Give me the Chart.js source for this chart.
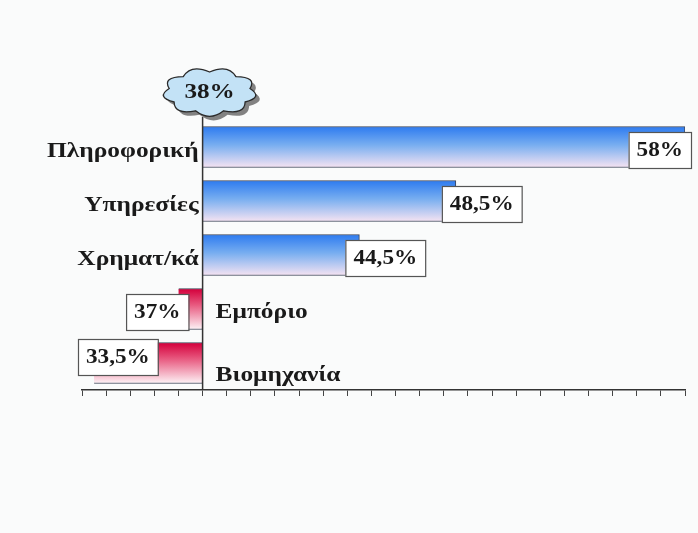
<!DOCTYPE html>
<html>
<head>
<meta charset="utf-8">
<script src="https://cdn.jsdelivr.net/npm/chart.js@4.4.1/dist/chart.umd.min.js"></script>
<style>
  html, body { margin: 0; padding: 0; background: #fafbfb; }
  #wrap { width: 698px; height: 533px; }
</style>
</head>
<body>
<div id="wrap"><canvas id="canvasBars"></canvas></div>
<script>
// categories and values
var categories = ['Πληροφορική', 'Υπηρεσίες', 'Χρηματ/κά', 'Εμπόριο', 'Βιομηχανία'];
var values = [58, 48.5, 44.5, 37, 33.5];
var baseValue = 38;          // the line in the cloud
var axisMin = 33;
var axisMax = 58;
var axisStep = 1;

var serif = '"Liberation Serif", "Times New Roman", serif';
var stretch = 1.16; // the original text is a bit wide

function pct(v) {
    return String(v).replace('.', ',') + '%';
}

function wideText(ctx, text, x, y, align, font, sx) {
    sx = sx || stretch;
    ctx.save();
    ctx.font = font;
    ctx.textBaseline = 'middle';
    ctx.textAlign = 'left';
    var w = ctx.measureText(text).width * sx;
    var x0 = align === 'right' ? x - w : (align === 'center' ? x - w / 2 : x);
    ctx.translate(x0, y);
    ctx.scale(sx, 1);
    ctx.fillText(text, 0, 0);
    ctx.restore();
    return w;
}

function barFill(context) {
    var chart = context.chart;
    var yScale = chart.scales.y;
    var up = values[context.dataIndex] >= baseValue;
    if (!yScale || context.dataIndex === undefined) return up ? '#4a8ae8' : '#d4003c';
    var yc = yScale.getPixelForValue(context.dataIndex);
    if (!isFinite(yc)) return up ? '#4a8ae8' : '#d4003c';
    var g = chart.ctx.createLinearGradient(0, yc - 20, 0, yc + 20);
    if (up) {
        g.addColorStop(0, '#2f7cf0');
        g.addColorStop(0.45, '#78aef0');
        g.addColorStop(1, '#f3e2f2');
    } else {
        g.addColorStop(0, '#d4003c');
        g.addColorStop(0.4, '#e85a80');
        g.addColorStop(1, '#fdf0f4');
    }
    return g;
}

// baseline, cloud, category names and value boxes
var decorations = {
    id: 'decorations',
    afterDatasetsDraw: function (chart) {
        var ctx = chart.ctx;
        var x = chart.scales.x, y = chart.scales.y;
        var area = chart.chartArea;
        var xb = x.getPixelForValue(baseValue);

        // baseline
        ctx.save();
        ctx.strokeStyle = '#333';
        ctx.lineWidth = 1.5;
        ctx.beginPath();
        ctx.moveTo(xb, area.top - 3);
        ctx.lineTo(xb, area.bottom);
        ctx.stroke();
        ctx.restore();

        var catFont = 'bold 20px ' + serif;
        var valFont = 'bold 20px ' + serif;

        categories.forEach(function (name, i) {
            var v = values[i];
            var yc = y.getPixelForValue(i);
            var xe = x.getPixelForValue(v);

            // value box
            ctx.save();
            ctx.font = valFont;
            var tw = ctx.measureText(pct(v)).width * stretch;
            ctx.restore();
            var bw = tw + 16, bh = 36;
            var bx, by = yc - 15, pushed = false;
            if (v >= baseValue) {
                bx = xe - 14;
                if (bx + bw > area.right + 6) bx = area.right + 6 - bw;
            } else {
                bx = xe + 10 - bw;
                if (bx < area.left - 4) { bx = area.left - 4; by -= 9; pushed = true; }
            }

            ctx.fillStyle = '#1a1a1a';
            if (v >= baseValue) {
                wideText(ctx, name, xb - 4, yc + 5, 'right', catFont, 1.27);
            } else {
                wideText(ctx, name, xb + 13, yc + (pushed ? 13 : 4), 'left', catFont, 1.27);
            }

            ctx.save();
            ctx.fillStyle = '#ffffff';
            ctx.strokeStyle = '#555';
            ctx.lineWidth = 1.2;
            ctx.fillRect(bx, by, bw, bh);
            ctx.strokeRect(bx + 0.5, by + 0.5, bw, bh);
            ctx.restore();
            ctx.fillStyle = '#1a1a1a';
            wideText(ctx, pct(v), bx + bw / 2, by + bh / 2 + 1, 'center', valFont);
        });

        // cloud
        var cx = xb + 7, cy = area.top - 28;
        function cloud(ox, oy) {
            var rx = 41, ry = 20, n = 9;
            ctx.beginPath();
            for (var k = 0; k <= n; k++) {
                var a = -Math.PI / 2 + k * 2 * Math.PI / n;
                var px = cx + ox + rx * Math.cos(a), py = cy + oy + ry * Math.sin(a);
                if (k === 0) { ctx.moveTo(px, py); continue; }
                var am = a - Math.PI / n;
                var qx = cx + ox + rx * 1.34 * Math.cos(am), qy = cy + oy + ry * 1.5 * Math.sin(am);
                ctx.quadraticCurveTo(qx, qy, px, py);
            }
            ctx.closePath();
        }
        ctx.save();
        cloud(4, 4);
        ctx.fillStyle = 'rgba(90,90,90,0.75)';
        ctx.fill();
        cloud(0, 0);
        ctx.fillStyle = '#c3e2f6';
        ctx.fill();
        ctx.strokeStyle = '#2a2a2a';
        ctx.lineWidth = 1.3;
        ctx.stroke();
        ctx.restore();
        ctx.fillStyle = '#1a1a1a';
        wideText(ctx, pct(baseValue), cx, cy + 1, 'center', 'bold 21px ' + serif, 1.2);
    }
};

var config = {
    type: 'bar',
    data: {
        labels: categories,
        datasets: [{
            data: values.map(function (v) { return [baseValue, v]; }),
            backgroundColor: barFill,
            borderColor: '#3a4255',
            borderWidth: 1,
            borderSkipped: 'start',
            barThickness: 41
        }]
    },
    options: {
        indexAxis: 'y',
        responsive: true,
        maintainAspectRatio: false,
        animation: false,
        layout: { padding: { left: 82, right: 13, top: 120, bottom: 137 } },
        plugins: {
            legend: { display: false },
            tooltip: { enabled: false }
        },
        scales: {
            x: {
                type: 'linear',
                min: axisMin,
                max: axisMax,
                ticks: { display: false, stepSize: axisStep },
                grid: {
                    drawOnChartArea: false,
                    drawTicks: true,
                    tickLength: 6,
                    color: '#444',
                    lineWidth: 1
                },
                border: { color: '#333', width: 1.5 }
            },
            y: { display: false }
        }
    },
    plugins: [decorations]
};

window.onload = function () {
    window.myBars = new Chart(document.getElementById('canvasBars'), config);
};
</script>
</body>
</html>
